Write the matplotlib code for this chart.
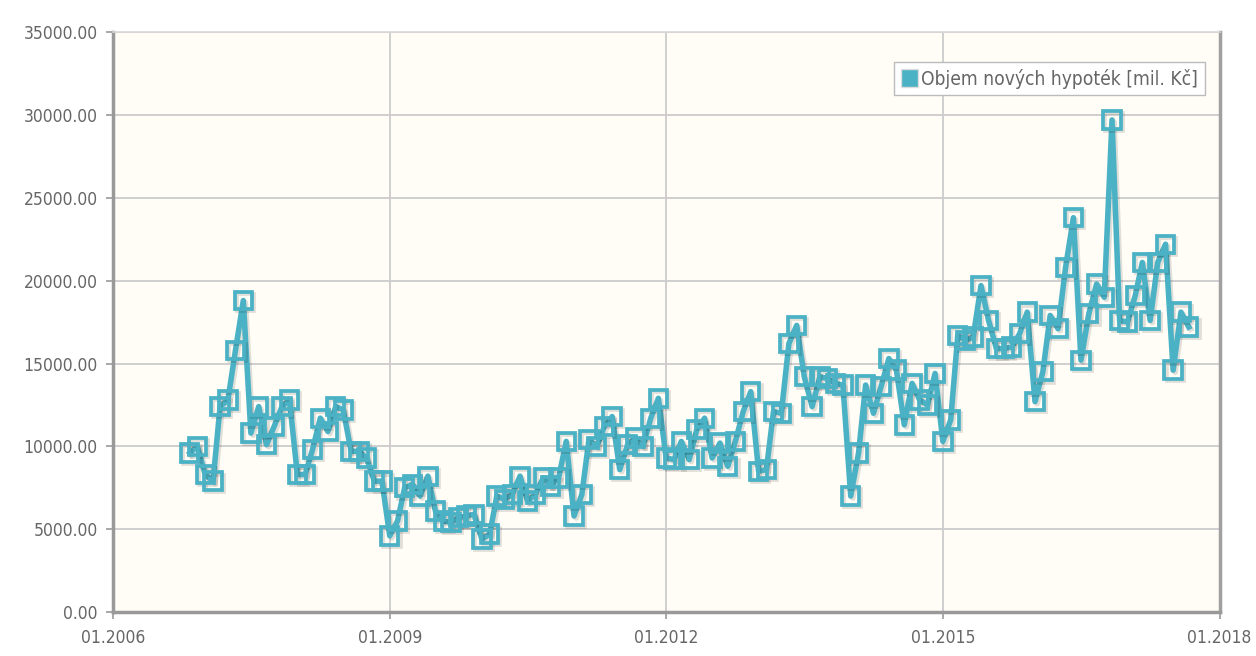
import matplotlib
matplotlib.use("Agg")
import matplotlib.pyplot as plt
import matplotlib.dates as mdates
import matplotlib.patheffects as pe
from matplotlib.ticker import MultipleLocator, FormatStrFormatter
from matplotlib.patches import Patch
import pandas as pd

# ---- data (monthly, from Nov 2006) ----
start_month = "2006-11-01"
values = [
    9600, 10000, 8300, 7900, 12400, 12800, 15800, 18800, 10800, 12400,
    10100, 11200, 12400, 12800, 8300, 8300, 9800, 11700, 10900, 12400,
    12200, 9700, 9700, 9300, 7900, 7900, 4600, 5500, 7500, 7700,
    7000, 8200, 6100, 5500, 5400, 5700, 5800, 5900, 4400, 4700,
    7000, 6800, 7100, 8200, 6700, 7100, 8100, 7600, 8100, 10300,
    5800, 7100, 10400, 10000, 11200, 11800, 8600, 10100, 10500, 10000,
    11700, 12900, 9300, 9200, 10300, 9200, 11000, 11700, 9300, 10200,
    8800, 10300, 12100, 13300, 8500, 8600, 12100, 12000, 16200, 17300,
    14200, 12400, 14200, 14100, 13800, 13700, 7000, 9600, 13700, 12000,
    13600, 15300, 14600, 11300, 13800, 12800, 12500, 14400, 10300, 11600,
    16700, 16400, 16600, 19700, 17600, 15900, 15900, 16000, 16800, 18100,
    12700, 14500, 17900, 17100, 20800, 23800, 15200, 18000, 19800, 19000,
    29700, 17600, 17500, 19100, 21100, 17600, 21100, 22200, 14600, 18100,
    17200,
]
series_label = "Objem nových hypoték [mil. Kč]"
x_ticks = ["2006-01-01", "2009-01-01", "2012-01-01", "2015-01-01", "2018-01-01"]
y_max = 35000
y_step = 5000

dates = pd.date_range(start_month, periods=len(values), freq="MS")

color = "#4bb2c5"
text_color = "#666666"
plt.rcParams["font.family"] = ["DejaVu Sans"]
plt.rcParams["font.stretch"] = "condensed"

fig = plt.figure(figsize=(12.56, 6.56), dpi=100)
fig.patch.set_facecolor("white")
ax = fig.add_axes([0.090, 0.067, 0.881, 0.884])
ax.set_facecolor("#fffdf6")

shadow = [pe.SimpleLineShadow(offset=(1.5, -1.5), shadow_color="#000000", alpha=0.12), pe.Normal()]
ax.plot(dates, values, color=color, linewidth=4.0, marker="s", markersize=12.5,
        markerfacecolor="none", markeredgecolor=color, markeredgewidth=2.7,
        label=series_label, zorder=3, path_effects=shadow)

ax.set_xlim(pd.Timestamp(x_ticks[0]), pd.Timestamp(x_ticks[-1]))
ax.set_ylim(0, y_max)
ax.set_xticks([pd.Timestamp(t) for t in x_ticks])
ax.xaxis.set_major_formatter(mdates.DateFormatter("%m.%Y"))
ax.yaxis.set_major_locator(MultipleLocator(y_step))
ax.yaxis.set_major_formatter(FormatStrFormatter("%.2f"))

ax.grid(True, color="#cccccc", linewidth=1.3, zorder=0)
ax.set_axisbelow(True)

for s in ["left", "bottom"]:
    ax.spines[s].set_color("#999999")
    ax.spines[s].set_linewidth(2.5)
ax.spines["right"].set_color("#a0a0a0")
ax.spines["right"].set_linewidth(2.5)
ax.spines["top"].set_color("#d8d8d8")
ax.spines["top"].set_linewidth(1.2)

ax.tick_params(axis="both", colors="#999999", labelcolor=text_color, labelsize=12.5,
               length=5, width=1.2)
ax.tick_params(axis="y", pad=6)
ax.tick_params(axis="x", pad=7)

ax.legend(handles=[Patch(facecolor=color, edgecolor="#dddddd", label=series_label)],
          loc="upper right", bbox_to_anchor=(0.99, 0.955), frameon=True,
          fontsize=13.8, handlelength=0.9, handleheight=1.1, handletextpad=0.15,
          borderpad=0.35, borderaxespad=0.2, fancybox=False,
          labelcolor=text_color, edgecolor="#bbbbbb", facecolor="white", framealpha=1)

fig.savefig("out.png", dpi=100)
